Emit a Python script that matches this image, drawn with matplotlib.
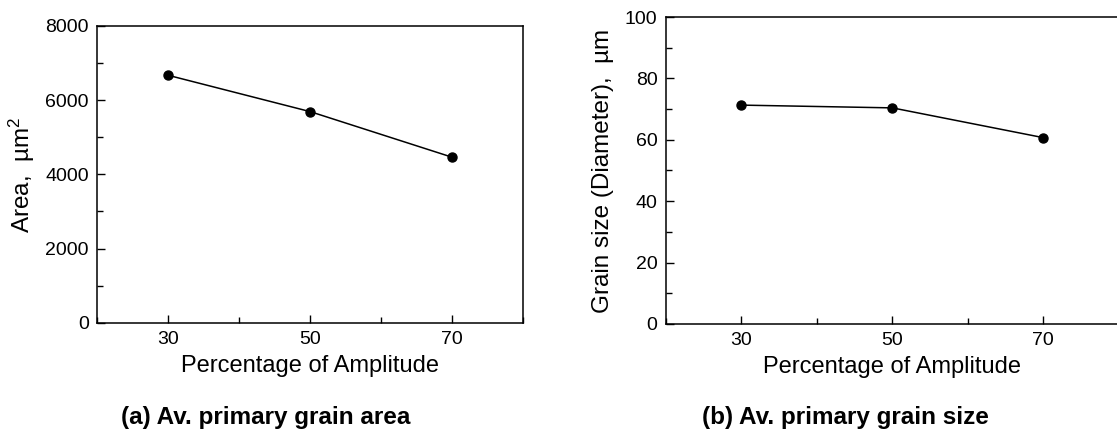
import matplotlib
matplotlib.use('Agg')
import matplotlib.pyplot as plt
from matplotlib.ticker import MultipleLocator

plt.rcParams['font.family'] = ['Liberation Sans', 'DejaVu Sans']
plt.rcParams['mathtext.fontset'] = 'custom'
plt.rcParams['mathtext.rm'] = 'Liberation Sans'
plt.rcParams['mathtext.default'] = 'regular'

# Data
amplitude = [30, 50, 70]
grain_area = [6670, 5690, 4460]        # um^2
grain_size = [71.3, 70.4, 60.7]        # um

fig = plt.figure(figsize=(11.17, 4.34), dpi=100)
ax1 = fig.add_axes([0.0871, 0.2565, 0.3814, 0.6836])
ax2 = fig.add_axes([0.5962, 0.2535, 0.4054, 0.7073])


def style(ax, ymax, ymajor):
    ax.set_xlim(20, 80)
    ax.set_ylim(0, ymax)
    ax.set_xticks(amplitude)
    ax.xaxis.set_minor_locator(MultipleLocator(10))
    ax.yaxis.set_major_locator(MultipleLocator(ymajor))
    ax.yaxis.set_minor_locator(MultipleLocator(ymajor / 2))
    ax.tick_params(which='both', direction='in', top=False, right=False,
                   width=1.0, labelsize=14, pad=6)
    ax.tick_params(which='major', length=5.5)
    ax.tick_params(which='minor', length=4.5)
    for s in ax.spines.values():
        s.set_linewidth(1.1)
    ax.set_xlabel('Percentage of Amplitude', fontsize=17, labelpad=5)


ax1.plot(amplitude, grain_area, color='black', lw=1.1, marker='o', ms=6.5)
style(ax1, 8000, 2000)
ax1.set_ylabel('Area,  µm$^2$', fontsize=17.5, labelpad=6)

ax2.plot(amplitude, grain_size, color='black', lw=1.1, marker='o', ms=6.5)
style(ax2, 100, 20)
ax2.set_ylabel('Grain size (Diameter),  µm', fontsize=17.5, labelpad=8)

fig.text(266 / 1117, 0.023, '(a) Av. primary grain area', ha='center',
         va='baseline', fontsize=17.5, fontweight='bold')
fig.text(845 / 1117, 0.023, '(b) Av. primary grain size', ha='center',
         va='baseline', fontsize=17.5, fontweight='bold')

fig.savefig('out.png', dpi=100)
